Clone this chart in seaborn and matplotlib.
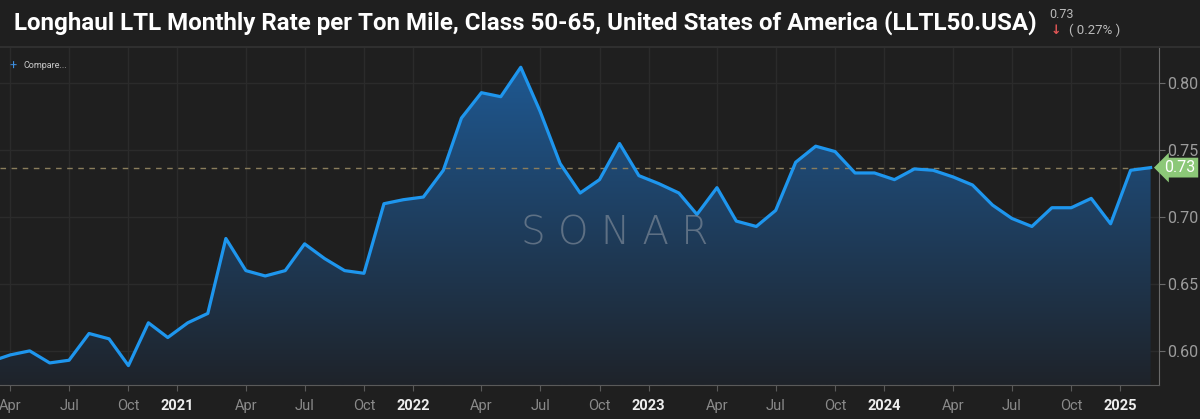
import numpy as np
import pandas as pd
import matplotlib
matplotlib.use("Agg")
import matplotlib.pyplot as plt
import matplotlib.dates as mdates
import seaborn as sns

# monthly series, Mar 2020 .. Feb 2025
months = pd.date_range("2020-03-01", "2025-02-01", freq="MS")
rate = [
    0.592, 0.597, 0.600, 0.591, 0.593, 0.613, 0.609, 0.589, 0.621, 0.610,
    0.621, 0.628, 0.684, 0.660, 0.656, 0.660, 0.680, 0.669, 0.660, 0.658, 0.710, 0.713,
    0.715, 0.735, 0.774, 0.793, 0.790, 0.812, 0.779, 0.740, 0.718, 0.728, 0.755, 0.731,
    0.725, 0.718, 0.702, 0.722, 0.697, 0.693, 0.705, 0.741, 0.753, 0.749, 0.733, 0.733,
    0.728, 0.736, 0.735, 0.730, 0.724, 0.709, 0.699, 0.693, 0.707, 0.707, 0.714, 0.695,
    0.735, 0.737,
]
y_ticks = [0.60, 0.65, 0.70, 0.75, 0.80]
month_ticks = ["2020-04-01", "2020-07-01", "2020-10-01", "2021-04-01", "2021-07-01",
               "2021-10-01", "2022-04-01", "2022-07-01", "2022-10-01", "2023-04-01",
               "2023-07-01", "2023-10-01", "2024-04-01", "2024-07-01", "2024-10-01"]
month_labels = ["Apr", "Jul", "Oct"] * 5
year_ticks = ["2020-12-16", "2021-12-16", "2022-12-16", "2023-12-16", "2024-12-16"]
year_labels = ["2021", "2022", "2023", "2024", "2025"]
last_label = "0.73"
change_label = "( 0.27% )"
title = "Longhaul LTL Monthly Rate per Ton Mile, Class 50-65, United States of America (LLTL50.USA)"

df = pd.DataFrame({"date": months, "rate": rate})

bg = "#1f1f1f"
plt.rcParams["font.family"] = ["Roboto", "DejaVu Sans"]

fig = plt.figure(figsize=(12, 4.19), dpi=100, facecolor=bg)
ax = fig.add_axes([0, 1 - 385 / 419, 1159 / 1200, (385 - 48) / 419])
ax.set_facecolor(bg)

x0 = pd.Timestamp("2020-03-16")
x1 = pd.Timestamp("2025-02-14")
ax.set_xlim(x0, x1)
ax.set_ylim(0.5745, 0.8264)

# grid
for t in month_ticks + year_ticks:
    ax.axvline(pd.Timestamp(t), color="#2b2b2b", lw=1, zorder=0)
for v in y_ticks:
    ax.axhline(v, color="#2b2b2b", lw=1, zorder=0)

# gradient area under the line
poly = ax.fill_between(df["date"], df["rate"], 0.5745, color="none", lw=0)
n = 256
top_c = np.array([30, 88, 145]) / 255
bot_c = np.array([31, 35, 42]) / 255
t = np.linspace(0, 1, n)[:, None]
grad = top_c * (1 - t) + bot_c * t
grad = np.repeat(grad[:, None, :], 2, axis=1)
img = ax.imshow(grad, extent=[mdates.date2num(x0), mdates.date2num(x1), 0.5745, max(rate)],
                aspect="auto", origin="upper", zorder=1)
img.set_clip_path(poly.get_paths()[0], transform=ax.transData)

sns.lineplot(data=df, x="date", y="rate", ax=ax, color="#1e96ee", lw=2.3, zorder=3)

# last value dashed line
ax.axhline(rate[-1], color="#8a7d5c", lw=1, ls=(0, (4, 4)), zorder=2)

# axes styling
for s in ["top", "left"]:
    ax.spines[s].set_visible(False)
ax.spines["bottom"].set_color("#5a5a5a")
ax.spines["right"].set_color("#6a6a6a")
ax.yaxis.tick_right()
ax.set_yticks(y_ticks)
ax.set_yticklabels([f"{v:.2f}" for v in y_ticks])
ax.tick_params(axis="y", colors="#6a6a6a", labelcolor="#9c9c9c", labelsize=11.5,
               length=4, pad=2)
ax.set_xticks([pd.Timestamp(d) for d in month_ticks + year_ticks])
ax.set_xticklabels(month_labels + year_labels)
ax.tick_params(axis="x", colors="#5a5a5a", length=4, labelsize=10.5, pad=6)
for lab in ax.get_xticklabels():
    if lab.get_text().isdigit():
        lab.set_color("#eeeeee")
        lab.set_fontweight("bold")
    else:
        lab.set_color("#8a8a8a")
ax.set_xlabel("")
ax.set_ylabel("")

# last value tag
ax.annotate(last_label, xy=(1.0, rate[-1]), xycoords=("axes fraction", "data"),
            xytext=(4, 0), textcoords="offset points", va="center", ha="left",
            color="white", fontsize=11.5,
            bbox=dict(boxstyle="larrow,pad=0.15", fc="#8cc878", ec="none"),
            annotation_clip=False, zorder=5)

# watermark
ax.text(0.53, 0.45, "S O N A R", transform=ax.transAxes, ha="center", va="center",
        fontsize=28, color="#7a8796", alpha=0.7, family="DejaVu Sans",
        fontweight="light", zorder=4)

# compare link
fig.text(9 / 1200, 1 - 66 / 419, "+", color="#3d8fe0", fontsize=9, va="center")
fig.text(23 / 1200, 1 - 65 / 419, "Compare...", color="#cccccc", fontsize=6.5, va="center")

# header
fig.add_artist(plt.Line2D([0, 1], [1 - 47 / 419] * 2, color="#333333", lw=1.2))
fig.text(14 / 1200, 1 - 23 / 419, title, color="white", fontsize=17.4, fontweight="bold",
         va="center", ha="left")
fig.text(1049 / 1200, 1 - 15 / 419, last_label, color="#bbbbbb", fontsize=9, va="center")
fig.text(1051 / 1200, 1 - 30 / 419, "\u2193", color="#e05555", fontsize=9,
         fontweight="bold", va="center", family="DejaVu Sans")
fig.text(1069 / 1200, 1 - 30 / 419, change_label, color="#bbbbbb", fontsize=9.5, va="center")

fig.savefig("out.png", dpi=100, facecolor=bg)
